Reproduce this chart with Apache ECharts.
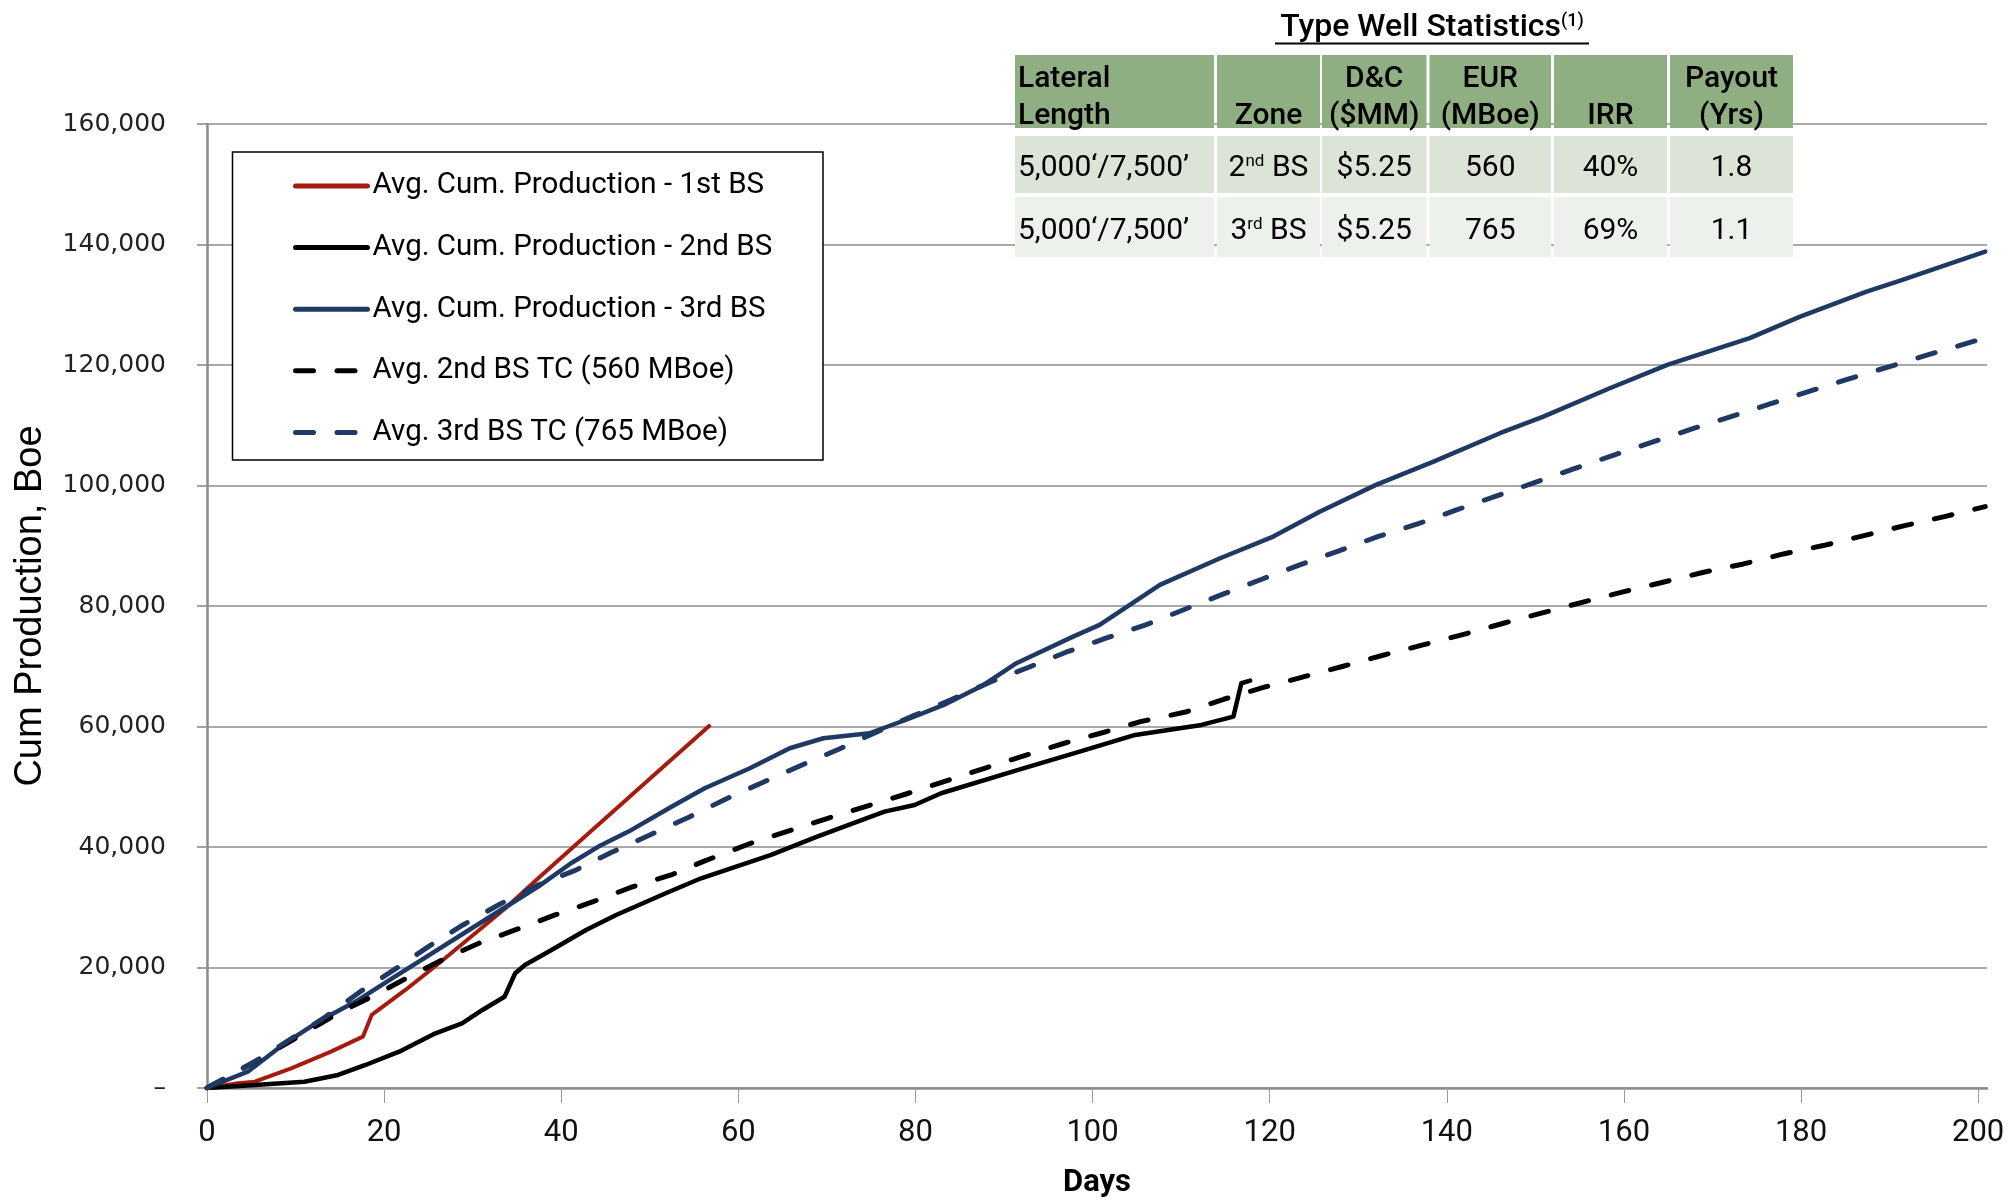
<!DOCTYPE html>
<html><head><meta charset="utf-8">
<script src="https://cdn.jsdelivr.net/npm/echarts@6/dist/echarts.min.js"></script>
<style>html,body{margin:0;padding:0;background:#fff}#c{width:2015px;height:1200px}</style>
</head><body><div id="c"></div>
<script>
// ---------- data ----------
const seriesNames = [
  'Avg. Cum. Production - 1st BS',
  'Avg. Cum. Production - 2nd BS',
  'Avg. Cum. Production - 3rd BS',
  'Avg. 2nd BS TC (560 MBoe)',
  'Avg. 3rd BS TC (765 MBoe)'
];
const xTickValues = [0, 20, 40, 60, 80, 100, 120, 140, 160, 180, 200];

const bs1Days = [0, 3.5, 5.4, 9.5, 14.0, 17.6, 18.6, 22.4, 26.2, 33.7, 37.4, 41.2, 48.8, 56.7];
const bs1Cum  = [0, 780, 1050, 3270, 6030, 8520, 12120, 16270, 20700, 29830, 34810, 39790, 49750, 60090];

const bs2Days = [0, 5.4, 11.0, 14.8, 17.9, 21.7, 25.8, 28.8, 31.1, 33.6, 34.8, 35.9, 38.9, 42.8, 46.2, 51.8, 55.8, 63.7, 68.9, 76.5, 79.9, 82.9, 91.6, 99.2, 104.8, 112.3, 115.9, 116.8, 117.8];
const bs2Cum  = [0, 500, 1050, 2160, 3820, 6030, 9080, 10740, 12950, 15150, 19040, 20420, 22910, 26230, 28720, 32320, 34810, 38680, 41720, 45870, 46980, 48920, 52790, 56110, 58600, 60260, 61640, 67180, 67620];

const bs3Days = [0, 4.6, 8.8, 12.9, 17.1, 20.9, 25.4, 29.9, 34.4, 37.4, 41.1, 44.2, 47.6, 52.5, 56.2, 61.3, 65.8, 69.6, 74.8, 79.4, 83.2, 87.7, 91.4, 97.8, 100.8, 107.6, 114.4, 120.4, 125.7, 132.0, 138.5, 146.0, 150.9, 158.4, 164.9, 170.1, 174.2, 179.9, 187.4, 191.2, 195.0, 200.8];
const bs3Cum  = [0, 2710, 7420, 11290, 14610, 18210, 22360, 26510, 30660, 33430, 37310, 40070, 42560, 46710, 49750, 53070, 56390, 58050, 58880, 61370, 63580, 66900, 70500, 74920, 76860, 83500, 87930, 91520, 95670, 100100, 103970, 108680, 111440, 116150, 120020, 122510, 124450, 128040, 132190, 134000, 135900, 138830];

const tc2Days = [0, 5.4, 10.3, 14.8, 19.0, 23.2, 26.9, 30.7, 34.8, 39.3, 43.6, 48.1, 52.4, 56.0, 61.4, 70.1, 79.2, 87.8, 96.8, 100.9, 105.4, 110.5, 114.8, 119.2, 123.8, 128.3, 132.8, 137.3, 141.8, 146.4, 150.9, 155.6, 160.0, 164.4, 169.0, 173.5, 178.0, 182.5, 187.1, 191.7, 196.2, 200.8];
const tc2Cum  = [0, 4370, 8520, 12400, 15440, 18760, 21530, 24020, 26230, 28720, 30930, 33420, 35360, 37570, 40620, 44770, 48920, 53070, 57220, 58880, 60800, 62400, 64520, 66450, 68230, 70000, 71830, 73540, 75250, 77140, 78900, 80730, 82390, 83940, 85600, 86980, 88640, 90030, 91680, 93340, 94840, 96500];

const tc3Days = [0, 5.4, 9.3, 13.3, 17.3, 21.1, 25.0, 28.9, 33.1, 37.4, 41.5, 45.7, 50.0, 54.4, 58.6, 62.8, 67.0, 71.4, 75.7, 79.8, 84.2, 88.4, 92.8, 97.0, 101.5, 106.0, 110.5, 114.8, 119.1, 123.4, 127.9, 132.2, 136.7, 141.1, 145.4, 149.9, 154.3, 158.7, 163.2, 167.7, 172.1, 176.5, 181.0, 185.4, 190.0, 194.3, 198.8, 200.8];
const tc3Cum  = [0, 4370, 7970, 11740, 15990, 19590, 23460, 27060, 30540, 33700, 36070, 39130, 42000, 44940, 47970, 50750, 53500, 56270, 59150, 61800, 64570, 67350, 69840, 72330, 74650, 76860, 79510, 82000, 84440, 86820, 89200, 91520, 93620, 95950, 98160, 100480, 102750, 104960, 107190, 109390, 111440, 113540, 115650, 117700, 119740, 121680, 123620, 124500];

const xAxisTitle = 'Days';
const yAxisTitle = 'Cum Production, Boe';

const tableTitle = 'Type Well Statistics';
const tableTitleNote = '(1)';
const tableHead1 = ['Lateral', '', 'D&C', 'EUR', '', 'Payout'];
const tableHead2 = ['Length', 'Zone', '($MM)', '(MBoe)', 'IRR', '(Yrs)'];
const tableRowA  = ['5,000‘/7,500’', '2nd BS', '$5.25', '560', '40%', '1.8'];
const tableRowB  = ['5,000‘/7,500’', '3rd BS', '$5.25', '765', '69%', '1.1'];

// ---------- styling / layout ----------
const RED = '#A51C0F', NAVY = '#1F3864', BLACK = '#000000';
const DIN = 'Roboto, "Liberation Sans", sans-serif';
const pair = (d, v) => d.map((x, i) => [x, v[i]]);

const colX = [[1015,1214],[1217,1320],[1322,1426.5],[1429.5,1551],[1554,1667],[1670,1793]];
const rowY = [[55,128],[136,193],[197,257]];
const rowFill = ['#8FAF82', '#DCE3D7', '#EDF1EB'];

const graphics = [];
// legend frame
graphics.push({type:'rect', z: 3, silent: true,
  shape:{x:232.5, y:152, width:590.5, height:308},
  style:{fill:'#fff', stroke:'#000', lineWidth:1.5}});

// table
function supRich(s) { return s.replace(/(\d)(st|nd|rd|th)\b/, '$1{sup|$2}'); }
const richSup = { sup: { fontSize: 17, fontFamily: DIN, verticalAlign: 'top', lineHeight: 17, fill: '#000' } };
rowY.forEach((ry, r) => {
  colX.forEach((cx) => {
    graphics.push({type:'rect', z: 10, silent: true,
      shape:{x:cx[0], y:ry[0], width:cx[1]-cx[0], height:ry[1]-ry[0]},
      style:{fill: rowFill[r]}});
  });
});
function cellText(c, y, txt, weight) {
  const left = c === 0;
  graphics.push({type:'text', z: 12, silent: true,
    x: left ? colX[c][0] + 3 : (colX[c][0] + colX[c][1]) / 2, y: y,
    style:{text: supRich(txt), fill:'#000',
      fontSize: 30, fontFamily: DIN, fontWeight: weight || 'normal',
      align: left ? 'left' : 'center', verticalAlign:'middle', lineHeight: 30, rich: richSup}});
}
tableHead1.forEach((t, c) => { if (t) cellText(c, 79, t, 500); });
tableHead2.forEach((t, c) => { if (t) cellText(c, 116, t, 500); });
tableRowA.forEach((t, c) => cellText(c, 168.5, t));
tableRowB.forEach((t, c) => cellText(c, 231.5, t));
// table title
graphics.push({type:'text', z: 12, silent: true, x: 1432, y: 28,
  style:{text: tableTitle + '{sup|' + tableTitleNote + '}', fill:'#000',
    fontSize: 32, fontFamily: DIN, fontWeight: 500, align:'center', verticalAlign:'middle', lineHeight: 32,
    rich: { sup: { fontSize: 18, fontFamily: DIN, fontWeight: 500, verticalAlign:'top', lineHeight: 18, fill:'#000' } }}});
graphics.push({type:'line', z: 12, silent: true,
  shape:{x1:1275, y1:43.5, x2:1589, y2:43.5}, style:{stroke:'#000', lineWidth:2}});

const gridCol = '#8C8C8C';
const solid = (w, c) => ({width: w, color: c, type: 'solid', cap: 'round', join: 'round'});
const dashed = (w, c) => ({width: w, color: c, type: [18, 23.5], cap: 'round', join: 'round'});

const option = {
  animation: false,
  backgroundColor: '#ffffff',
  grid: { left: 207, right: 28, top: 124, bottom: 112, containLabel: false, outerBoundsMode: 'none' },
  xAxis: {
    type: 'value', min: 0, max: 201,
    name: xAxisTitle, nameLocation: 'middle', nameGap: 80,
    nameTextStyle: { fontFamily: DIN, fontSize: 31, fontWeight: 'bold', color: '#000' },
    axisLine: { show: true, onZero: false, lineStyle: { color: gridCol, width: 2.5 } },
    axisTick: { show: true, length: 15, customValues: xTickValues, lineStyle: { color: '#9a9a9a', width: 1 } },
    axisLabel: { margin: 30, fontFamily: DIN, fontSize: 31, color: '#111', customValues: xTickValues },
    splitLine: { show: false }
  },
  yAxis: {
    type: 'value', min: 0, max: 160000, interval: 20000,
    name: yAxisTitle, nameLocation: 'middle', nameGap: 157, nameRotate: 90,
    nameTextStyle: { fontFamily: '"Liberation Sans", Arial, sans-serif', fontSize: 38, color: '#000' },
    axisLine: { show: true, onZero: false, lineStyle: { color: gridCol, width: 2.5 } },
    axisTick: { show: true, length: 10, lineStyle: { color: gridCol, width: 1.6 } },
    axisLabel: { margin: 41, fontFamily: '"DejaVu Sans", sans-serif', fontSize: 25, color: '#222',
      formatter: v => v === 0 ? '–' : v.toLocaleString('en-US') },
    splitLine: { show: true, lineStyle: { color: gridCol, width: 1.6 } }
  },
  legend: {
    show: true, orient: 'vertical', left: 293, top: 171, z: 6,
    itemWidth: 72, itemHeight: 30, itemGap: 31.6, padding: 0,
    data: seriesNames,
    textStyle: { fontFamily: DIN, fontSize: 29.5, color: '#000', lineHeight: 30 },
    itemStyle: { opacity: 0, borderWidth: 0 },
    lineStyle: { width: 5 }
  },
  graphic: graphics,
  series: [
    { name: seriesNames[0], type: 'line', data: pair(bs1Days, bs1Cum), symbol: 'none', lineStyle: solid(4, RED), color: RED, z: 3 },
    { name: seriesNames[1], type: 'line', data: pair(bs2Days, bs2Cum), symbol: 'none', lineStyle: solid(4.5, BLACK), color: BLACK, z: 3 },
    { name: seriesNames[2], type: 'line', data: pair(bs3Days, bs3Cum), symbol: 'none', lineStyle: solid(4.5, NAVY), color: NAVY, z: 3 },
    { name: seriesNames[3], type: 'line', data: pair(tc2Days, tc2Cum), symbol: 'none', lineStyle: dashed(5, BLACK), color: BLACK, z: 3 },
    { name: seriesNames[4], type: 'line', data: pair(tc3Days, tc3Cum), symbol: 'none', lineStyle: dashed(5, NAVY), color: NAVY, z: 3 }
  ]
};
const chart = echarts.init(document.getElementById('c'), null, { renderer: 'canvas', width: 2015, height: 1200 });
chart.setOption(option);
</script></body></html>
